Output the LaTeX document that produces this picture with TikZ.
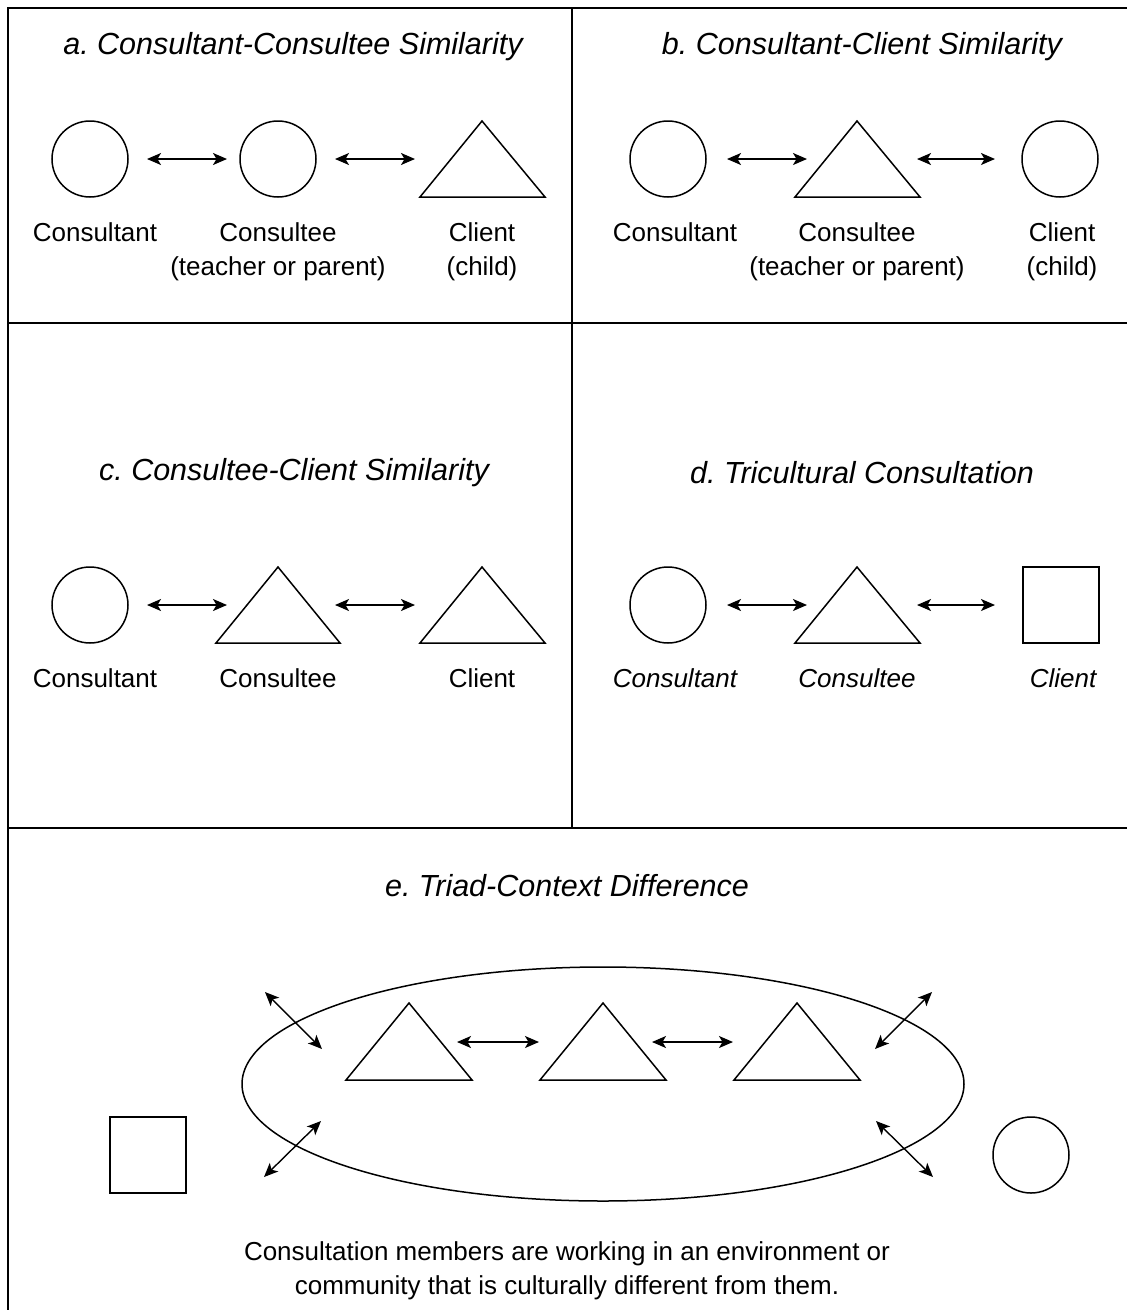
\documentclass[tikz,border=0pt]{standalone}
\usepackage{fontspec}
\setmainfont{Liberation Sans}
\usetikzlibrary{arrows.meta,shapes.geometric}
\frenchspacing
\begin{document}
\begin{tikzpicture}[x=1pt,y=-1pt,
  frame/.style={line width=1.6pt},
  shp/.style={draw,line width=1.5pt},
  circ/.style={shp,circle,minimum size=76pt,inner sep=0pt},
  sq/.style={shp,rectangle,minimum size=76pt,inner sep=0pt},
  dbl/.style={line width=1.4pt,{Stealth[length=14pt,width=12pt,inset=3.5pt]}-{Stealth[length=14pt,width=12pt,inset=3.5pt]}},
  lbl/.style={font=\fontsize{26}{34.5}\selectfont,align=center,anchor=north},
  ttl/.style={font=\fontsize{30.5}{34}\selectfont\itshape}]
\useasboundingbox (0,0) rectangle (1127,1310);
% frame
\draw[frame] (8,1310) -- (8,8) -- (1127,8);
\draw[frame] (8,323) -- (1127,323);
\draw[frame] (8,828) -- (1127,828);
\draw[frame] (572,8) -- (572,828);
% titles
\node[ttl] (ta) at (293,47) {a. Consultant-Consultee Similarity};
\node[ttl] (tb) at (862,47) {b. Consultant-Client Similarity};
\node[ttl] (tc) at (294,473) {c. Consultee-Client Similarity};
\node[ttl] (td) at (862,473) {d. Tricultural Consultation};
\node[ttl] (te) at (567,886) {e. Triad-Context Difference};
% panel a
\node[circ] (a1) at (90,159) {};
\node[circ] (a2) at (278,159) {};
\draw[shp,line join=miter] (482,121) -- (545,197) -- (420,197) -- cycle;
\draw[dbl] (147,159) -- (227,159);
\draw[dbl] (335,159) -- (415,159);
\node[lbl] (la1) at (95,219) {Consultant};
\node[lbl] (la2) at (278,219) {Consultee\\(teacher or parent)};
\node[lbl] (la3) at (482,219) {Client\\(child)};
% panel b
\node[circ] (b1) at (668,159) {};
\draw[shp,line join=miter] (857,121) -- (920,197) -- (795,197) -- cycle;
\node[circ] (b3) at (1060,159) {};
\draw[dbl] (727,159) -- (807,159);
\draw[dbl] (917,159) -- (995,159);
\node[lbl] (lb1) at (675,219) {Consultant};
\node[lbl] (lb2) at (857,219) {Consultee\\(teacher or parent)};
\node[lbl] (lb3) at (1062,219) {Client\\(child)};
% panel c
\node[circ] (c1) at (90,605) {};
\draw[shp,line join=miter] (278,567) -- (340,643) -- (216,643) -- cycle;
\draw[shp,line join=miter] (482,567) -- (545,643) -- (420,643) -- cycle;
\draw[dbl] (147,605) -- (227,605);
\draw[dbl] (335,605) -- (415,605);
\node[lbl] (lc1) at (95,665) {Consultant};
\node[lbl] (lc2) at (278,665) {Consultee};
\node[lbl] (lc3) at (482,665) {Client};
% panel d
\node[circ] (d1) at (668,605) {};
\draw[shp,line join=miter] (857,567) -- (920,643) -- (795,643) -- cycle;
\node[sq] (d3) at (1061,605) {};
\draw[dbl] (727,605) -- (807,605);
\draw[dbl] (917,605) -- (995,605);
\node[lbl,font=\fontsize{26}{34.5}\selectfont\itshape] (ld1) at (675,665) {Consultant};
\node[lbl,font=\fontsize{26}{34.5}\selectfont\itshape] (ld2) at (857,665) {Consultee};
\node[lbl,font=\fontsize{26}{34.5}\selectfont\itshape] (ld3) at (1063,665) {Client};
% panel e
\node[shp,ellipse,minimum width=722pt,minimum height=234pt,inner sep=0pt] (ell) at (603,1084) {};
\draw[shp,line join=miter] (409,1003) -- (472,1080) -- (346,1080) -- cycle;
\draw[shp,line join=miter] (603,1003) -- (666,1080) -- (540,1080) -- cycle;
\draw[shp,line join=miter] (797,1003) -- (860,1080) -- (734,1080) -- cycle;
\draw[dbl] (457,1042) -- (539,1042);
\draw[dbl] (652,1042) -- (733,1042);
\draw[dbl] (265,992) -- (322,1049);
\draw[dbl] (875,1049) -- (932,992);
\draw[dbl] (264,1177) -- (321,1121);
\draw[dbl] (876,1121) -- (933,1177);
\node[sq] (e1) at (148,1155) {};
\node[circ] (e2) at (1031,1155) {};
\node[lbl,anchor=center] (le) at (567,1271) {Consultation members are working in an environment or\\community that is culturally different from them.};
\end{tikzpicture}
\end{document}
